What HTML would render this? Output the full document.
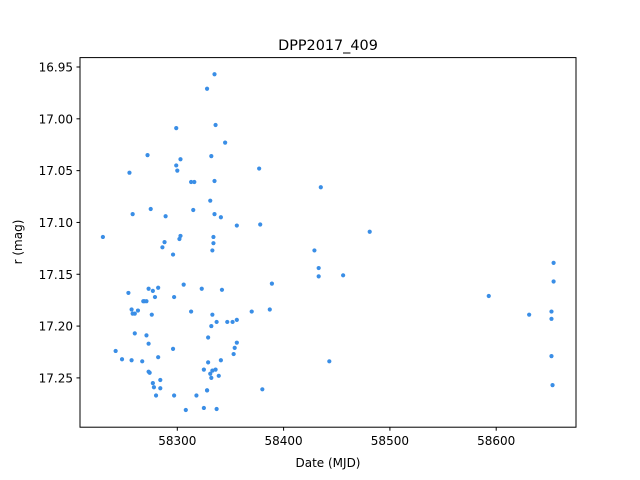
<!DOCTYPE html>
<html><head><meta charset="utf-8"><style>
body{margin:0;background:#fff;}
svg{display:block;font-family:"DejaVu Sans","Liberation Sans",sans-serif;}
</style></head><body>
<svg id="chart" width="640" height="480">
<rect width="640" height="480" fill="#fff"/>
<text x="328" y="50" text-anchor="middle" font-size="14.4">DPP2017_409</text>
<g id="xt"></g><g id="yt"></g><g id="pts"></g>
<rect x="80" y="57.6" width="496" height="369.6" fill="none" stroke="#000" stroke-width="1"/>
<text x="328" y="467" text-anchor="middle" font-size="12">Date (MJD)</text>
<text transform="translate(22,242) rotate(-90)" text-anchor="middle" font-size="12">r (mag)</text>
</svg>
<script>
const xTicks=[58300,58400,58500,58600];
const yTicks=[16.95,17.00,17.05,17.10,17.15,17.20,17.25];
const mjd=[58335,58328,58336,58299,58345,58332,58303,58272,58299,58300,58313,58316,58335,58377,58435,58255,58331,58275,58315,58258,58335,58341,58289,58356,58378,58334,58334,58303,58302,58481,58230,58288,58333,58286,58296,58429,58433,58433,58456,58654,58654,58389,58306,58282,58273,58323,58277,58342,58268,58269,58279,58297,58254,58271,58593,58257,58263,58260,58258,58276,58313,58387,58370,58333,58356,58352,58337,58347,58332,58631,58652,58652,58260,58271,58273,58296,58356,58354,58329,58353,58282,58242,58248,58257,58267,58341,58443,58329,58652,58273,58274,58325,58333,58336,58331,58339,58332,58277,58284,58278,58284,58297,58280,58318,58328,58328,58380,58653,58325,58308,58337];
const mag=[16.957,16.971,17.006,17.009,17.023,17.036,17.039,17.035,17.045,17.050,17.061,17.061,17.060,17.048,17.066,17.052,17.079,17.087,17.088,17.092,17.092,17.095,17.094,17.103,17.102,17.114,17.120,17.113,17.116,17.109,17.114,17.119,17.127,17.124,17.131,17.127,17.144,17.152,17.151,17.139,17.157,17.159,17.160,17.163,17.164,17.164,17.166,17.165,17.176,17.176,17.172,17.172,17.168,17.176,17.171,17.184,17.185,17.188,17.188,17.189,17.186,17.184,17.186,17.189,17.194,17.196,17.196,17.196,17.200,17.189,17.186,17.193,17.207,17.209,17.217,17.222,17.216,17.221,17.211,17.227,17.230,17.224,17.232,17.233,17.234,17.233,17.234,17.235,17.229,17.244,17.245,17.242,17.243,17.242,17.246,17.248,17.250,17.255,17.252,17.259,17.260,17.267,17.267,17.267,17.262,17.262,17.261,17.257,17.279,17.281,17.280];
const NS='http://www.w3.org/2000/svg';
function X(v){return 177.3+(v-58300)*1.063;}
function Y(v){return 67+(v-16.95)*(310.9/0.3);}
function mk(t,a){const e=document.createElementNS(NS,t);for(const k in a)e.setAttribute(k,a[k]);return e;}
const xt=document.getElementById('xt'),yt=document.getElementById('yt'),pts=document.getElementById('pts');
xTicks.forEach(v=>{
  const l=mk('line',{x1:X(v),x2:X(v),y1:427.2,y2:430.7,stroke:'#000'});
  
  
  xt.appendChild(l);
  const t=mk('text',{x:X(v),y:445,'text-anchor':'middle','font-size':'12'});
  t.textContent=v;
  
  
  xt.appendChild(t);
});
yTicks.forEach(v=>{
  const l=mk('line',{x1:76.5,x2:80,y1:Y(v),y2:Y(v),stroke:'#000'});
  
  
  yt.appendChild(l);
  const t=mk('text',{x:73,y:Y(v)+4.5,'text-anchor':'end','font-size':'12'});
  t.textContent=v.toFixed(2);
  
  
  yt.appendChild(t);
});
mjd.forEach((d,i)=>{
  const c=mk('circle',{cx:X(d),cy:Y(mag[i]),r:2.1,fill:'#3a8ee6'});
  
  
  pts.appendChild(c);
});
</script>
</body></html>
